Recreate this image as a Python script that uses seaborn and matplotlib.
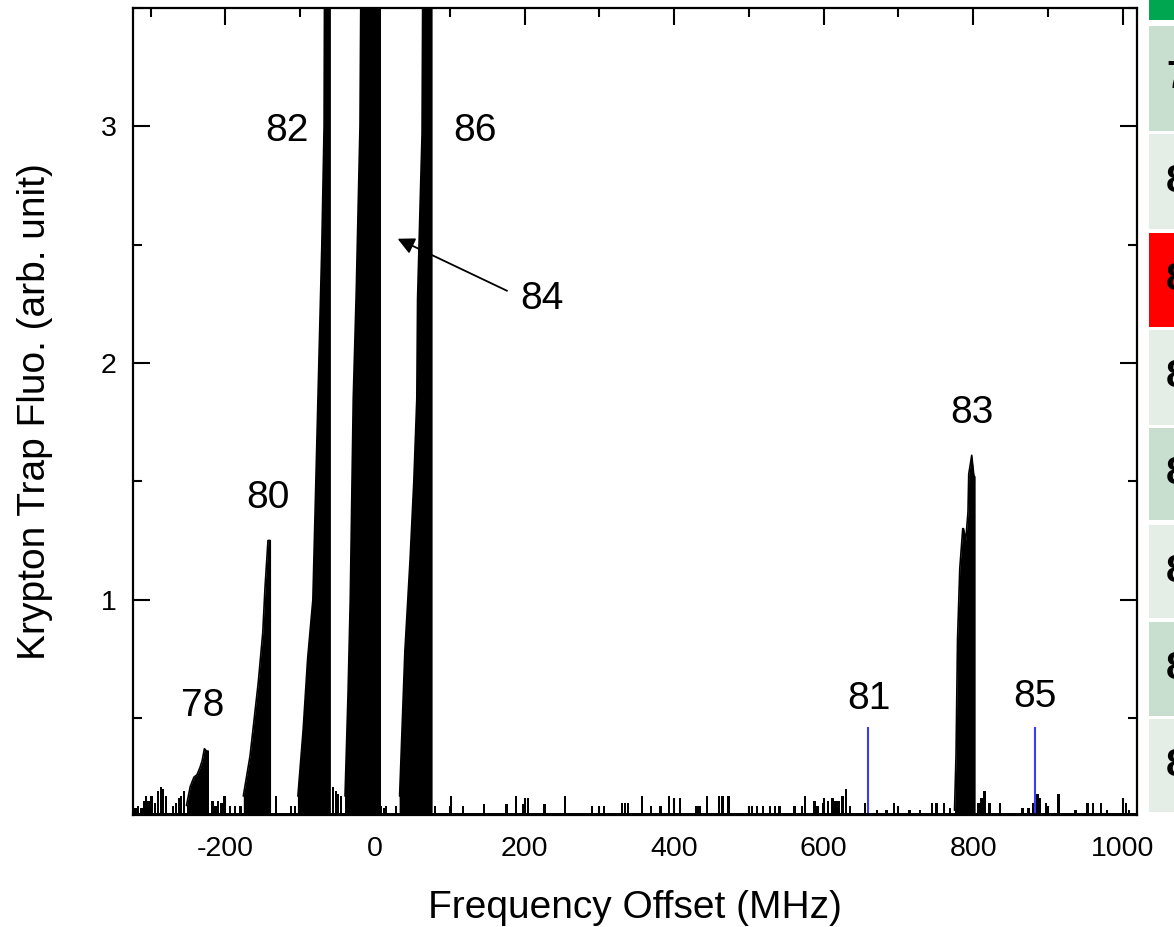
import numpy as np
import matplotlib
matplotlib.use("Agg")
import matplotlib.pyplot as plt
from matplotlib.patches import Rectangle
import seaborn as sns

# baseline level of the spectrum
BASE = 0.10

# isotope peaks (MHz, arb. unit); the big ones are off scale
peak78_x = [-252, -247, -242, -238, -234, -231, -228, -225, -223, -223]
peak78_y = [0.13, 0.21, 0.25, 0.26, 0.29, 0.32, 0.37, 0.36, 0.36, 0.10]
peak80_x = [-176, -167, -156, -150, -147, -143, -140, -140]
peak80_y = [0.17, 0.34, 0.65, 0.86, 1.05, 1.25, 1.25, 0.10]
peak82_x = [-103, -96, -90, -83, -79, -75, -71, -68, -66, -60, -60]
peak82_y = [0.17, 0.45, 0.75, 1.0, 1.5, 2.0, 2.5, 3.0, 5.0, 5.0, 0.10]
peak84_x = [-40, -36, -33, -29, -25, -20, -16, 7, 7]
peak84_y = [0.17, 0.6, 1.0, 1.85, 2.3, 3.0, 5.0, 5.0, 0.10]
peak86_x = [33, 40, 47, 52, 56, 57, 63, 66, 76, 76]
peak86_y = [0.17, 0.78, 1.17, 1.5, 1.85, 2.27, 2.97, 5.0, 5.0, 0.10]
peak83_x = [775, 777, 779, 782, 786, 787, 790, 793, 794, 798, 801, 802, 802]
peak83_y = [0.11, 0.34, 0.83, 1.13, 1.30, 1.30, 1.25, 1.37, 1.53, 1.61, 1.52, 1.52, 0.10]

# background noise spikes
noise_x = [-320, -317, -312, -309, -306, -303, -299, -294, -290, -286, -283, -279, -270,
           -266, -262, -259, -255, -223, -217, -213, -210, -205, -201, -194, -187, -180,
           -132, -112, -107, -56, -52, -49, -45,
           8, 12, 15, 28, 80, 102, 118, 146, 176, 189, 198, 205, 227, 254, 290, 306,
           330, 334, 338, 357, 369, 382, 393, 408, 430, 434, 444, 460, 465, 473,
           504, 511, 519, 528, 535, 541, 561, 571, 575, 588, 592, 600, 606, 612, 616, 620,
           625, 630, 635, 655, 671, 684, 694, 715, 729, 745, 751, 761, 769, 807, 811, 815,
           822, 836, 866, 874, 880, 886, 889, 897, 914, 937, 953, 960, 971, 979, 1004, 1008]
noise_y = [0.12, 0.13, 0.12, 0.15, 0.17, 0.15, 0.17, 0.14, 0.19, 0.21, 0.20, 0.17, 0.13,
           0.14, 0.16, 0.17, 0.19, 0.17, 0.15, 0.13, 0.15, 0.14, 0.17, 0.13, 0.13, 0.13,
           0.17, 0.13, 0.13, 0.21, 0.19, 0.18, 0.17,
           0.13, 0.12, 0.13, 0.13, 0.13, 0.17, 0.13, 0.135, 0.135, 0.17, 0.135, 0.16, 0.135, 0.17, 0.13, 0.13,
           0.14, 0.14, 0.14, 0.17, 0.13, 0.13, 0.17, 0.16, 0.13, 0.13, 0.17, 0.17, 0.17, 0.17,
           0.13, 0.13, 0.13, 0.13, 0.13, 0.13, 0.13, 0.13, 0.17, 0.15, 0.13, 0.14, 0.15, 0.16, 0.15, 0.15,
           0.17, 0.20, 0.13, 0.14, 0.11, 0.11, 0.14, 0.11, 0.11, 0.14, 0.14, 0.14, 0.12, 0.14, 0.16, 0.19,
           0.14, 0.14, 0.12, 0.12, 0.14, 0.18, 0.16, 0.14, 0.18, 0.11, 0.14, 0.14, 0.14, 0.11, 0.14, 0.11]

# expected (not observed) isotopes
blue_x = [659, 882]
blue_h = 0.46

iso_labels = ["78", "80", "82", "86", "84", "83", "81", "85"]
iso_lx = [-230, -143, -117, 134, 223, 798, 661, 882]
iso_ly = [0.55, 1.43, 2.98, 2.98, 2.27, 1.79, 0.58, 0.59]

table_labels = ["78", "80", "81", "82", "83", "84", "85", "86"]
table_colors = ["#c8dfd0", "#e4eee7", "#ff0000", "#e4eee7", "#c8dfd0", "#e4eee7", "#c8dfd0", "#e4eee7"]

sns.set_style("ticks")
plt.rcParams["font.family"] = ["Liberation Sans", "DejaVu Sans"]
plt.rcParams["text.color"] = "black"
plt.rcParams["axes.labelcolor"] = "black"
plt.rcParams["axes.unicode_minus"] = False

fig = plt.figure(figsize=(11.74, 9.27), dpi=100)
ax = fig.add_axes([133 / 1174, 1 - 815 / 927, (1137 - 133) / 1174, (815 - 8) / 927])

ax.fill_between([-330, 1030], 0, BASE, color="black", lw=0)
ax.bar(noise_x, noise_y, width=3.2, color="black", linewidth=0)
for px, py in [(peak78_x, peak78_y), (peak80_x, peak80_y), (peak82_x, peak82_y),
               (peak84_x, peak84_y), (peak86_x, peak86_y), (peak83_x, peak83_y)]:
    ax.fill_between(px, 0, py, color="black", lw=0)
    sns.lineplot(x=px, y=py, color="black", lw=1.2, ax=ax, estimator=None, sort=False)

ax.vlines(blue_x, BASE, blue_h, color="#3a3aff", lw=1.5)

for t, lx, ly in zip(iso_labels, iso_lx, iso_ly):
    ax.text(lx, ly, t, fontsize=28, ha="center", va="center", color="black")

ax.annotate("", xy=(27, 2.53), xytext=(180, 2.30),
            arrowprops=dict(arrowstyle="-|>", color="black", lw=1.3, mutation_scale=25))

ax.set_xlim(-323.5, 1019)
ax.set_ylim(0.09, 3.5)
ax.set_xticks([-200, 0, 200, 400, 600, 800, 1000])
ax.set_xticks([-300, -100, 100, 300, 500, 700, 900], minor=True)
ax.set_yticks([1, 2, 3])
ax.set_yticks([0.5, 1.5, 2.5, 3.5], minor=True)
ax.tick_params(which="both", direction="in", top=True, right=True, width=1.5,
               colors="black", labelcolor="black")
ax.tick_params(which="major", length=12, labelsize=20.5)
ax.tick_params(axis="y", which="major", pad=12)
ax.tick_params(axis="x", which="major", pad=15)
ax.tick_params(which="minor", length=6.5)
for s in ax.spines.values():
    s.set_linewidth(1.6)
    s.set_color("black")

ax.set_xlabel("Frequency Offset (MHz)", fontsize=28, labelpad=20)
ax.set_ylabel("Krypton Trap Fluo. (arb. unit)", fontsize=28, labelpad=34)

# cropped table at the right edge of the screenshot
W, H = 1174, 927
fig.add_artist(Rectangle((1149 / W, 1 - 20 / H), 25 / W, 20 / H,
                         transform=fig.transFigure, color="#00a650", lw=0))
row_tops = [26, 134, 233, 330, 428, 525, 622, 719]
row_bots = [131, 229, 327, 425, 520, 618, 716, 812]
for top, bot, c, t in zip(row_tops, row_bots, table_colors, table_labels):
    fig.add_artist(Rectangle((1149 / W, 1 - bot / H), 25 / W, (bot - top) / H,
                             transform=fig.transFigure, color=c, lw=0))
    fig.text(1166 / W, 1 - (top + bot) / 2 / H, t, fontsize=28, fontweight="bold",
             ha="left", va="center")

fig.savefig("out.png", dpi=100)
